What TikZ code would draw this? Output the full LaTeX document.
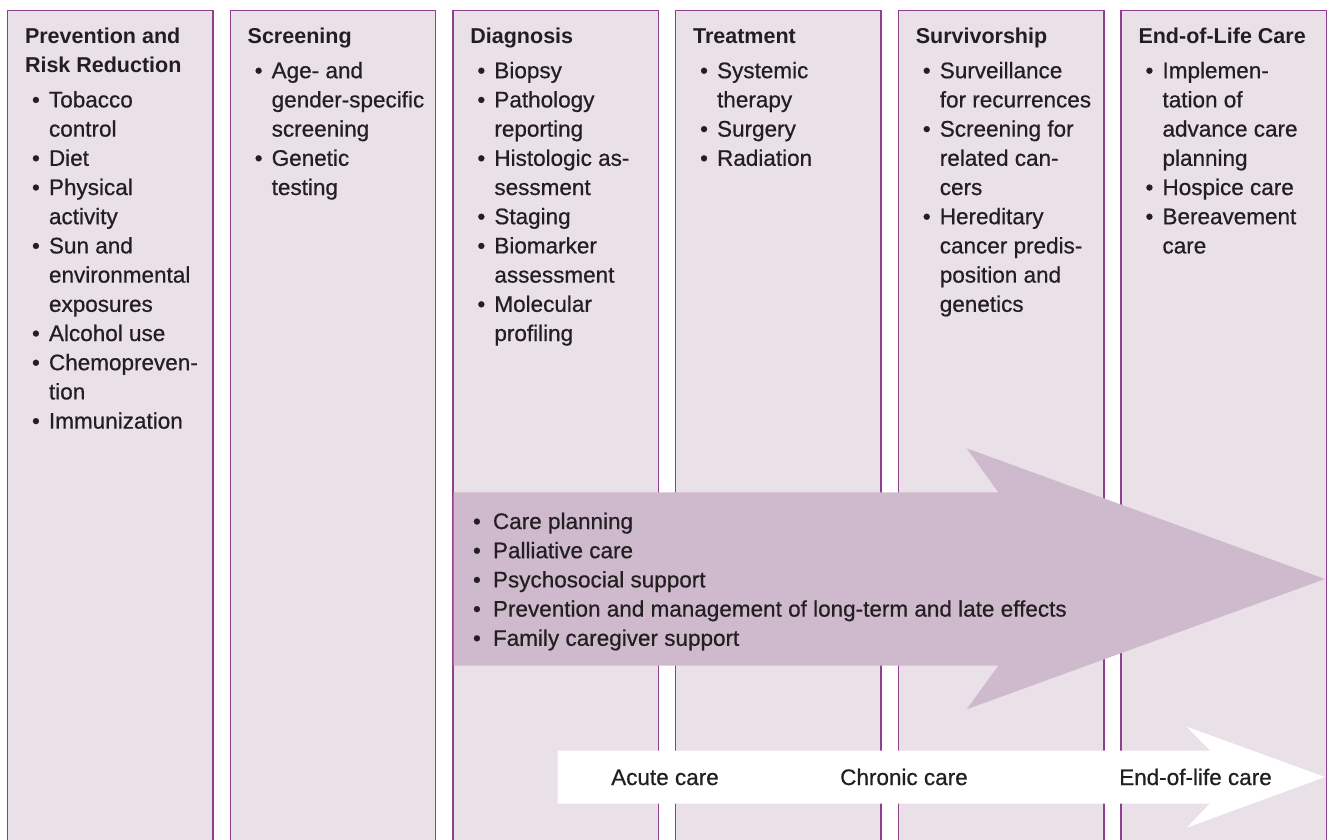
\documentclass[tikz,border=0pt]{standalone}
\usepackage{fontspec}
\setmainfont{Liberation Sans}
\newfontfamily\bodyf{Liberation Sans}[FakeBold=0.6]
\definecolor{colfill}{HTML}{E9E0E8}
\definecolor{colborder}{HTML}{8E3F8E}
\definecolor{arrowfill}{HTML}{CFB9CD}
\definecolor{txtcol}{HTML}{231F20}
\newcommand\hd[1]{{\fontsize{21.5}{29.2}\selectfont\normalfont\bfseries #1}}
\newcommand\bul{\hspace*{7pt}\makebox[17pt][l]{•}}
\newcommand\ind{\hspace*{24pt}}
\newcommand\abul{\makebox[20pt][l]{•}}
\newcommand\strt{\rule{0pt}{22pt}}
\tikzset{
  colbox/.style={draw=colborder, fill=colfill, line width=1.4pt, rectangle, anchor=north west,
    minimum width=205.5pt, minimum height=840pt, inner sep=0pt, outer sep=0pt},
  coltext/.style={anchor=north west, inner sep=0pt, outer sep=0pt, align=left, text=txtcol,
    font=\bodyf\fontsize{22.5}{29.2}\selectfont},
  bigarrow/.style={fill=arrowfill},
  smallarrow/.style={fill=white},
  caretext/.style={anchor=base west, inner sep=0pt, text=txtcol, font=\bodyf\fontsize{22.5}{27}\selectfont},
}
\begin{document}
\begin{tikzpicture}[x=1pt,y=-1pt]
\useasboundingbox (0,0) rectangle (1330,840);
\clip (0,0) rectangle (1330,840);
\fill[white] (0,0) rectangle (1330,840);
% columns
\foreach \i in {0,...,5}{
  \node[colbox] (c\i) at ({7.5+222.7*\i},10.7) {};
}
% column texts
\node[coltext] (t1) at (25,21) {\strt\hd{Prevention and}\\
\hd{Risk Reduction}\\[6pt]
\bul Tobacco\\
\ind control\\
\bul Diet\\
\bul Physical\\
\ind activity\\
\bul Sun and\\
\ind environmental\\
\ind exposures\\
\bul Alcohol use\\
\bul Chemopreven-\\
\ind tion\\
\bul Immunization};
\node[coltext] (t2) at (247.7,21) {\strt\hd{Screening}\\[6pt]
\bul Age- and\\
\ind gender-specific\\
\ind screening\\
\bul Genetic\\
\ind testing};
\node[coltext] (t3) at (470.4,21) {\strt\hd{Diagnosis}\\[6pt]
\bul Biopsy\\
\bul Pathology\\
\ind reporting\\
\bul Histologic as-\\
\ind sessment\\
\bul Staging\\
\bul Biomarker\\
\ind assessment\\
\bul Molecular\\
\ind profiling};
\node[coltext] (t4) at (693.1,21) {\strt\hd{Treatment}\\[6pt]
\bul Systemic\\
\ind therapy\\
\bul Surgery\\
\bul Radiation};
\node[coltext] (t5) at (915.8,21) {\strt\hd{Survivorship}\\[6pt]
\bul Surveillance\\
\ind for recurrences\\
\bul Screening for\\
\ind related can-\\
\ind cers\\
\bul Hereditary\\
\ind cancer predis-\\
\ind position and\\
\ind genetics};
\node[coltext] (t6) at (1138.5,21) {\strt\hd{End-of-Life Care}\\[6pt]
\bul Implemen-\\
\ind tation of\\
\ind advance care\\
\ind planning\\
\bul Hospice care\\
\bul Bereavement\\
\ind care};
% big arrow
\fill[bigarrow] (453.6,492.3) -- (998.3,492.3) -- (966.7,448.3) -- (1325,579)
  -- (966.7,709.3) -- (998.3,665.7) -- (453.6,665.7) -- cycle;
\node[coltext] (t7) at (473,507) {\strt\abul Care planning\\
\abul Palliative care\\
\abul Psychosocial support\\
\abul Prevention and management of long-term and late effects\\
\abul Family caregiver support};
% small arrow
\fill[smallarrow] (557.7,750.5) -- (1210,750.5) -- (1186.7,726.7) -- (1325,777)
  -- (1186.7,827.7) -- (1210,803.5) -- (557.7,803.5) -- cycle;
\node[caretext] (acute) at (611,785) {Acute care};
\node[caretext] (chronic) at (840,785) {Chronic care};
\node[caretext] (eol) at (1119,785) {End-of-life care};
\end{tikzpicture}
\end{document}
